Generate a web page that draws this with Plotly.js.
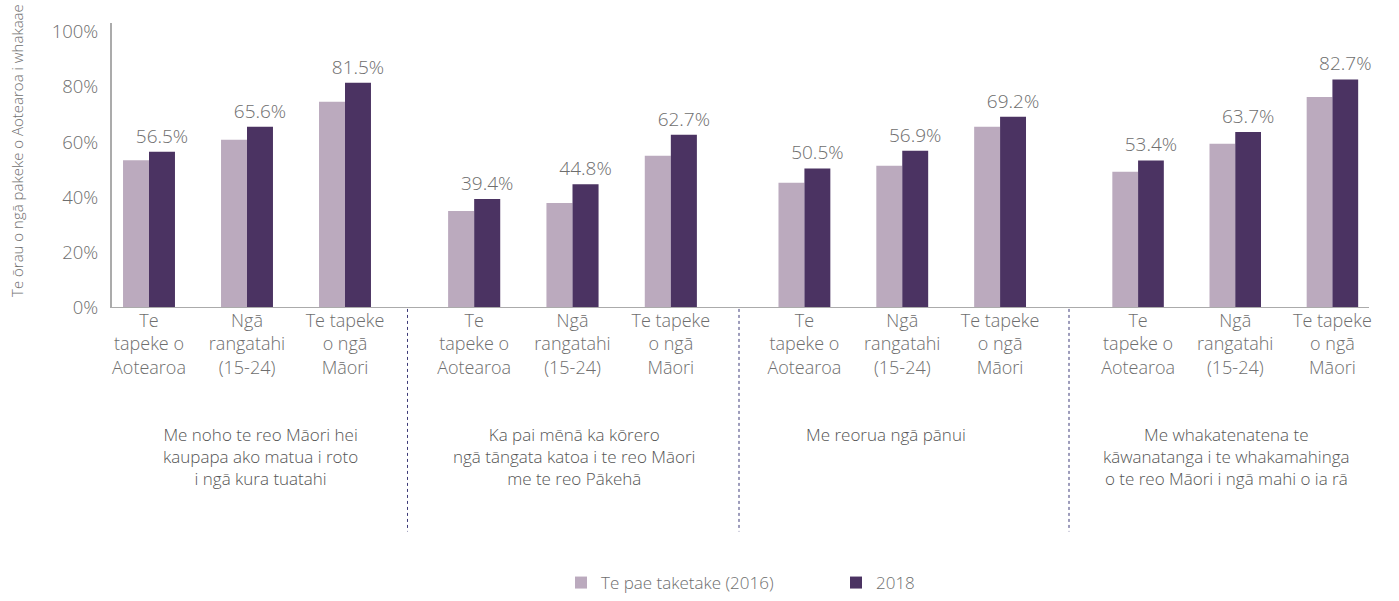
<!DOCTYPE html>
<html>
<head>
<meta charset="utf-8">
<script src="https://cdn.plot.ly/plotly-3.0.1.min.js"></script>
<style>
html,body{margin:0;padding:0;background:#fff;}
#chart{width:1399px;height:601px;}
</style>
</head>
<body>
<div id="chart"></div>
<script>
// ---- data ----
const categories = ['Te<br>tapeke o<br>Aotearoa', 'Ngā<br>rangatahi<br>(15-24)', 'Te tapeke<br>o ngā<br>Māori'];
const statements = [
  'Me noho te reo Māori hei<br>kaupapa ako matua i roto<br>i ngā kura tuatahi',
  'Ka pai mēnā ka kōrero<br>ngā tāngata katoa i te reo Māori<br>me te reo Pākehā',
  'Me reorua ngā pānui',
  'Me whakatenatena te<br>kāwanatanga i te whakamahinga<br>o te reo Māori i ngā mahi o ia rā'
];
const series2016Name = 'Te pae taketake (2016)';
const series2018Name = '2018';
const values2016_g1 = [53.5, 60.9, 74.6];
const values2016_g2 = [35.1, 38.0, 55.1];
const values2016_g3 = [45.3, 51.5, 65.6];
const values2016_g4 = [49.3, 59.4, 76.4];
const values2018_g1 = [56.5, 65.6, 81.5];
const values2018_g2 = [39.4, 44.8, 62.7];
const values2018_g3 = [50.5, 56.9, 69.2];
const values2018_g4 = [53.4, 63.7, 82.7];
const yTicks = [0, 20, 40, 60, 80, 100];
const yTitle = 'Te ōrau o ngā pakeke o Aotearoa i whakaae';

const values2016 = [values2016_g1, values2016_g2, values2016_g3, values2016_g4];
const values2018 = [values2018_g1, values2018_g2, values2018_g3, values2018_g4];

// ---- layout helpers ----
const W = 1399, H = 601;
const px = v => v / W;
const py = v => 1 - v / H;
const FONT = '"Open Sans", Lato, sans-serif';
const GRAY = '#6e6e6e';
const C2016 = '#bbaabe';
const C2018 = '#4b3362';

const groupDomains = [[100, 394], [425, 720], [755.5, 1049], [1089.5, 1381]];
const statementX = [260, 574, 886, 1226];
const separatorX = [407.5, 739, 1069];

const traces = [];
const layout = {
  width: W, height: H,
  margin: {l: 0, r: 0, t: 0, b: 0},
  paper_bgcolor: '#fff', plot_bgcolor: 'rgba(0,0,0,0)',
  font: {family: FONT, color: GRAY, weight: 300},
  barmode: 'group', bargap: 0.47, bargroupgap: 0,
  showlegend: true,
  legend: {
    orientation: 'h', x: px(561), y: py(569), xanchor: 'left', yanchor: 'top',
    font: {family: FONT, size: 17, color: GRAY, weight: 300},
    entrywidth: 230, traceorder: 'normal', bgcolor: 'rgba(0,0,0,0)'
  },
  yaxis: {
    domain: [py(310), py(23)], range: [0, 103.2],
    anchor: 'free', position: px(111),
    tickvals: yTicks, ticktext: yTicks.map(v => v + '%'),
    showgrid: false, zeroline: false,
    showline: true, linecolor: '#ababab', linewidth: 2,
    ticks: '', ticklabelstandoff: 8,
    tickfont: {family: FONT, size: 18.5, color: GRAY, weight: 300},
    fixedrange: true
  },
  shapes: [],
  annotations: []
};

groupDomains.forEach((d, g) => {
  const ax = g === 0 ? 'x' : 'x' + (g + 1);
  const axKey = g === 0 ? 'xaxis' : 'xaxis' + (g + 1);
  layout[axKey] = {
    domain: [px(d[0]), px(d[1])], anchor: 'y', type: 'category',
    showline: false, showgrid: false, zeroline: false, ticks: '',
    tickfont: {family: FONT, size: 18, color: GRAY, weight: 300},
    fixedrange: true
  };
  traces.push({
    type: 'bar', x: categories, y: values2016[g], xaxis: ax, yaxis: 'y',
    name: series2016Name, legendgroup: 'a', showlegend: g === 0,
    marker: {color: C2016}, hoverinfo: 'y'
  });
  traces.push({
    type: 'bar', x: categories, y: values2018[g], xaxis: ax, yaxis: 'y',
    name: series2018Name, legendgroup: 'b', showlegend: g === 0,
    marker: {color: C2018}, hoverinfo: 'y',
    texttemplate: '%{y:.1f}%', textposition: 'outside', constraintext: 'none',
    cliponaxis: false,
    textfont: {family: FONT, size: 19, color: GRAY, weight: 300}
  });
  layout.annotations.push({
    xref: 'paper', yref: 'paper', x: px(statementX[g]), y: py(424),
    xanchor: 'center', yanchor: 'top', align: 'center', showarrow: false,
    text: statements[g],
    font: {family: FONT, size: 17, color: '#555', weight: 300}
  });
});

// baseline across all groups
layout.shapes.push({
  type: 'line', xref: 'paper', yref: 'y', x0: px(111), x1: px(1369), y0: 0, y1: 0,
  line: {color: '#ababab', width: 2}
});
separatorX.forEach(x => {
  layout.shapes.push({
    type: 'line', xref: 'paper', yref: 'paper', x0: px(x), x1: px(x), y0: py(311), y1: py(535),
    line: {color: '#3d3a78', width: 1, dash: 'dot'}
  });
});
layout.annotations.push({
  xref: 'paper', yref: 'paper', x: px(17), y: py(152), textangle: -90,
  xanchor: 'center', yanchor: 'middle', showarrow: false, text: yTitle,
  font: {family: FONT, size: 15, color: GRAY, weight: 300}
});

Plotly.newPlot('chart', traces, layout, {displayModeBar: false, staticPlot: true});
</script>
</body>
</html>
